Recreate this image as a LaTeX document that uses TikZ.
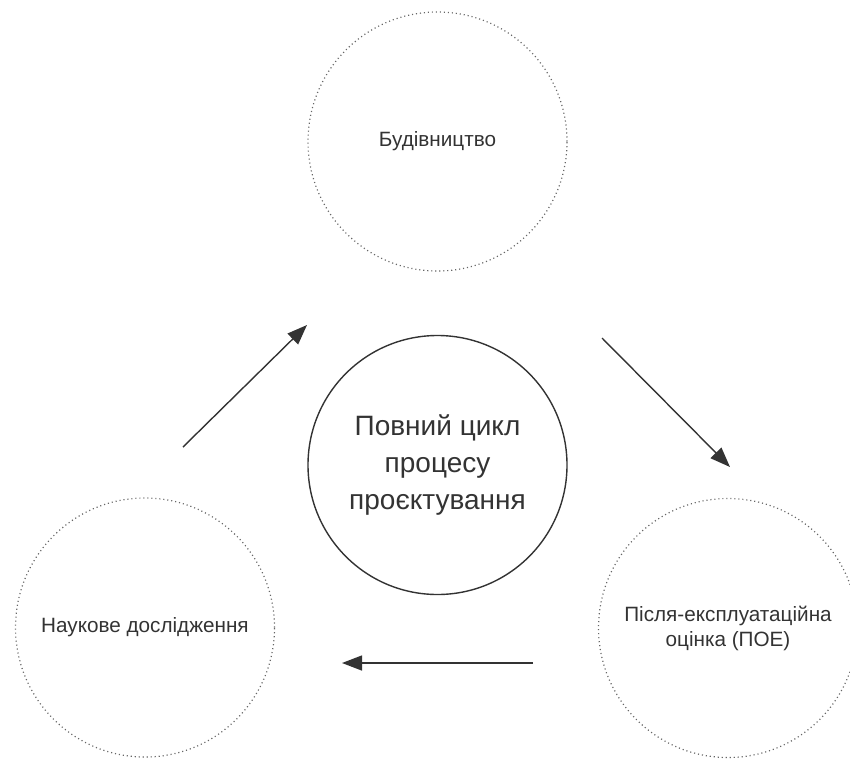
\documentclass[tikz,border=0pt]{standalone}
\usepackage{fontspec}
\setmainfont{Liberation Sans}
\usetikzlibrary{arrows.meta}
\definecolor{ink}{HTML}{333333}
\definecolor{dotc}{HTML}{666666}
\begin{document}
\begin{tikzpicture}[x=1pt,y=-1pt,
  phase/.style={circle,draw=dotc,line width=1.2pt,dash pattern=on 1.1pt off 2.9pt,minimum size=259pt,inner sep=0pt,text=ink,font=\fontsize{20.7}{25}\selectfont,align=center},
  core/.style={circle,draw=ink,line width=1.4pt,minimum size=259pt,inner sep=0pt,text=ink,font=\fontsize{28}{37}\selectfont,align=center},
  flow/.style={draw=ink,line width=1.4pt,-{Triangle[length=20pt,width=15pt]}}]
\useasboundingbox (0,0) rectangle (850,758);
\node[phase] (build) at (437.5,141.5) {Будівництво};
\node[core] (cycle) at (437.5,465) {Повний цикл\\процесу\\проєктування};
\node[phase] (research) at (145,627.5) {Наукове дослідження};
\node[phase] (poe) at (728,628) {Після-експлуатаційна\\оцінка (ПОЕ)};
\coordinate (a1s) at (183,447);
\coordinate (a1e) at (307,325);
\coordinate (a2s) at (602,338);
\coordinate (a2e) at (730,467);
\coordinate (a3s) at (533,663);
\coordinate (a3e) at (342,663);
\draw[flow] (a1s) -- (a1e);
\draw[flow] (a2s) -- (a2e);
\draw[flow] (a3s) -- (a3e);
\end{tikzpicture}
\end{document}
